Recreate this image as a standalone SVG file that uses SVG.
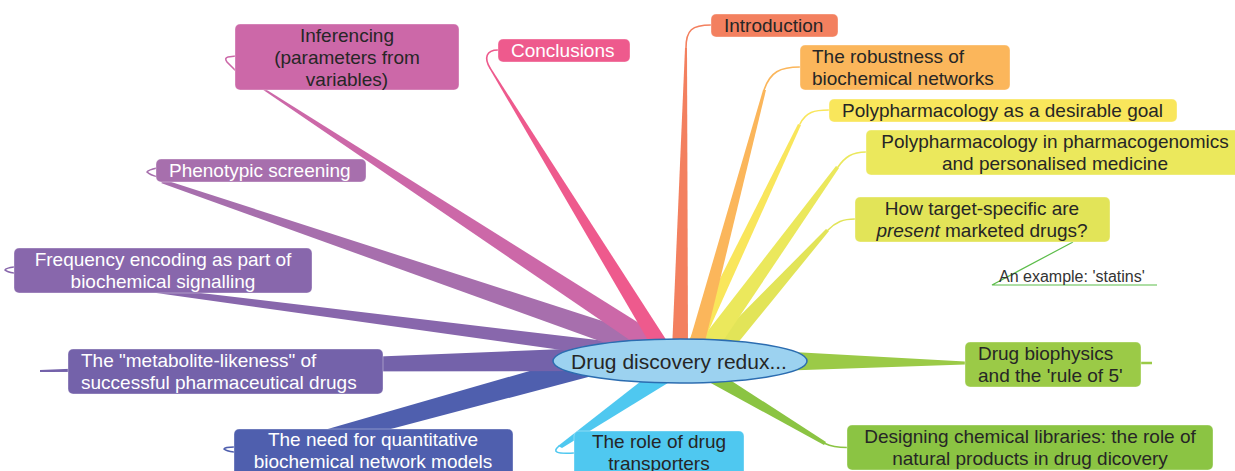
<svg xmlns="http://www.w3.org/2000/svg" width="1235" height="471" viewBox="0 0 1235 471">
<style>
text{font-family:"Liberation Sans",Arial,sans-serif;font-size:19px;fill:#262626}
.w{fill:#ffffff}
.c{text-anchor:middle}
.hook{fill:none;stroke-width:1.6;stroke-linecap:round}
.box{stroke:#ffffff;stroke-opacity:0.35;stroke-width:1}
</style>
<rect width="1235" height="471" fill="#ffffff"/>
<g id="connectors">
  <!-- left side -->
  <polygon points="592,353 300,437 300,453 592,376" fill="#4F5FAE"/>
  <path class="hook" d="M234,447 Q225,447 224,449 Q226,451 234,452" stroke="#4F5FAE"/>
  <polygon points="590,348 40,370 40,372 590,371" fill="#7462AA"/>
  <polygon points="640,345 14,271 14,273 640,361" fill="#8867AC"/>
  <path class="hook" d="M14,267 Q6,268 5,270 Q7,272 14,273" stroke="#8867AC"/>
  <polygon points="655,338 165,180 161,183 655,361" fill="#A76FAD"/>
  <path class="hook" d="M157,168 Q148,170 147,172 Q150,175 158,177" stroke="#A76FAD"/>
  <polygon points="660.5,336.6 262.5,87.2 261.5,88.8 649.5,353.4" fill="#CC68A8"/>
  <path class="hook" d="M236,56 L228,57 Q224,58 227,62 L236,71" stroke="#CC68A8"/>
  <polygon points="666.8,340.8 490.6,67.6 489.4,68.4 653.2,349.2" fill="#EE5A8D"/>
  <path class="hook" d="M490,68 C484,58 486,50 498,50" stroke="#EE5A8D"/>
  <!-- top right -->
  <polygon points="704,352 826,229 829,231 732,350" fill="#E2E458"/>
  <path class="hook" d="M828,230 C836,222 843,219 855,219" stroke="#E2E458"/>
  <polygon points="693,350 836,166 839,168 717,350" fill="#EBE85C"/>
  <path class="hook" d="M838,167 C845,157 852,152 866,152" stroke="#EBE85C"/>
  <polygon points="684,350 798,124 801,125 700,350" fill="#F9E65B"/>
  <path class="hook" d="M800,124 C806,112 814,110 829,110" stroke="#F9E65B"/>
  <polygon points="687,350 763,90 766,90 703,350" fill="#FBB65B"/>
  <path class="hook" d="M764,90 C770,72 780,67 800,67" stroke="#FBB65B"/>
  <polygon points="672,350 685,48 687,48 688,350" fill="#F3805F"/>
  <path class="hook" d="M686,48 C686,30 692,25 711,25" stroke="#F3805F"/>
  <!-- right / bottom -->
  <polygon points="775,351 965,361.5 965,364.5 775,371" fill="#9BCA47"/>
  <line x1="965" y1="363" x2="1152" y2="363" stroke="#9BCA47" stroke-width="2.5"/>
  <polygon points="698,376 710,367 826,442 824,445" fill="#8BC443"/>
  <path class="hook" d="M825,443.5 C832,447 838,447.5 847,447.5" stroke="#8BC443"/>
  <polygon points="645,378 676,378 562,448 558,446" fill="#4FC8F0"/>
  <path class="hook" d="M559,446 C552,452 556,454 574,453" stroke="#4FC8F0"/>
  <!-- sub-topic -->
  <polyline points="1073,242 992,285 1157,285" fill="none" stroke="#5CBD4A" stroke-width="1.2"/>
</g>
<g id="center">
  <ellipse cx="680" cy="361" rx="127" ry="22" fill="#9CD2F0" stroke="#2B6CB0" stroke-width="1.5"/>
  <text x="679" y="369" class="c" style="font-size:21px">Drug discovery redux...</text>
</g>
<g id="introduction">
  <rect class="box" x="711" y="14" width="127" height="23" rx="5" fill="#F3805F"/>
  <text x="724" y="32">Introduction</text>
</g>
<g id="robustness">
  <rect class="box" x="800" y="45" width="210" height="45" rx="5" fill="#FBB65B"/>
  <text x="812" y="63">The robustness of</text>
  <text x="812" y="85">biochemical networks</text>
</g>
<g id="desirable">
  <rect class="box" x="829" y="99" width="348" height="23" rx="5" fill="#F9E65B"/>
  <text x="842" y="117">Polypharmacology as a desirable goal</text>
</g>
<g id="pharmacogenomics">
  <rect class="box" x="866" y="130" width="375" height="45" rx="5" fill="#EBE85C"/>
  <text x="1055" y="148" class="c">Polypharmacology in pharmacogenomics</text>
  <text x="1055" y="170" class="c">and personalised medicine</text>
</g>
<g id="target-specific">
  <rect class="box" x="855" y="197" width="255" height="45" rx="5" fill="#E2E458"/>
  <text x="982" y="215" class="c">How target-specific are</text>
  <text x="982" y="237" class="c"><tspan font-style="italic">present</tspan> marketed drugs?</text>
</g>
<g id="statins">
  <text x="999" y="282" style="font-size:16px;fill:#333">An example: 'statins'</text>
</g>
<g id="biophysics">
  <rect class="box" x="965" y="342" width="176" height="45" rx="5" fill="#9BCA47"/>
  <text x="978" y="360">Drug biophysics</text>
  <text x="978" y="382">and the 'rule of 5'</text>
</g>
<g id="libraries">
  <rect class="box" x="847" y="425" width="366" height="45" rx="5" fill="#8BC443"/>
  <text x="1030" y="443" class="c">Designing chemical libraries: the role of</text>
  <text x="1030" y="465" class="c">natural products in drug dicovery</text>
</g>
<g id="transporters">
  <rect class="box" x="574" y="431" width="170" height="50" rx="5" fill="#4FC8F0"/>
  <text x="659" y="448" class="c">The role of drug</text>
  <text x="659" y="470" class="c">transporters</text>
</g>
<g id="quantitative">
  <rect class="box" x="234" y="429" width="279" height="50" rx="5" fill="#4F5FAE"/>
  <text x="373" y="446" class="c w">The need for quantitative</text>
  <text x="373" y="468" class="c w">biochemical network models</text>
</g>
<g id="metabolite">
  <rect class="box" x="68" y="349" width="315" height="45" rx="5" fill="#7462AA"/>
  <text x="81" y="367" class="w">The "metabolite-likeness" of</text>
  <text x="81" y="389" class="w">successful pharmaceutical drugs</text>
</g>
<g id="frequency">
  <rect class="box" x="14" y="248" width="298" height="45" rx="5" fill="#8867AC"/>
  <text x="163" y="266" class="c w">Frequency encoding as part of</text>
  <text x="163" y="288" class="c w">biochemical signalling</text>
</g>
<g id="phenotypic">
  <rect class="box" x="156" y="159" width="210" height="23" rx="5" fill="#A76FAD"/>
  <text x="169" y="177" class="w">Phenotypic screening</text>
</g>
<g id="inferencing">
  <rect class="box" x="235" y="24" width="224" height="66" rx="5" fill="#CC68A8"/>
  <text x="347" y="42" class="c">Inferencing</text>
  <text x="347" y="64" class="c">(parameters from</text>
  <text x="347" y="86" class="c">variables)</text>
</g>
<g id="conclusions">
  <rect class="box" x="498" y="39" width="132" height="23" rx="5" fill="#EE5A8D"/>
  <text x="511" y="57" class="w">Conclusions</text>
</g>
</svg>
